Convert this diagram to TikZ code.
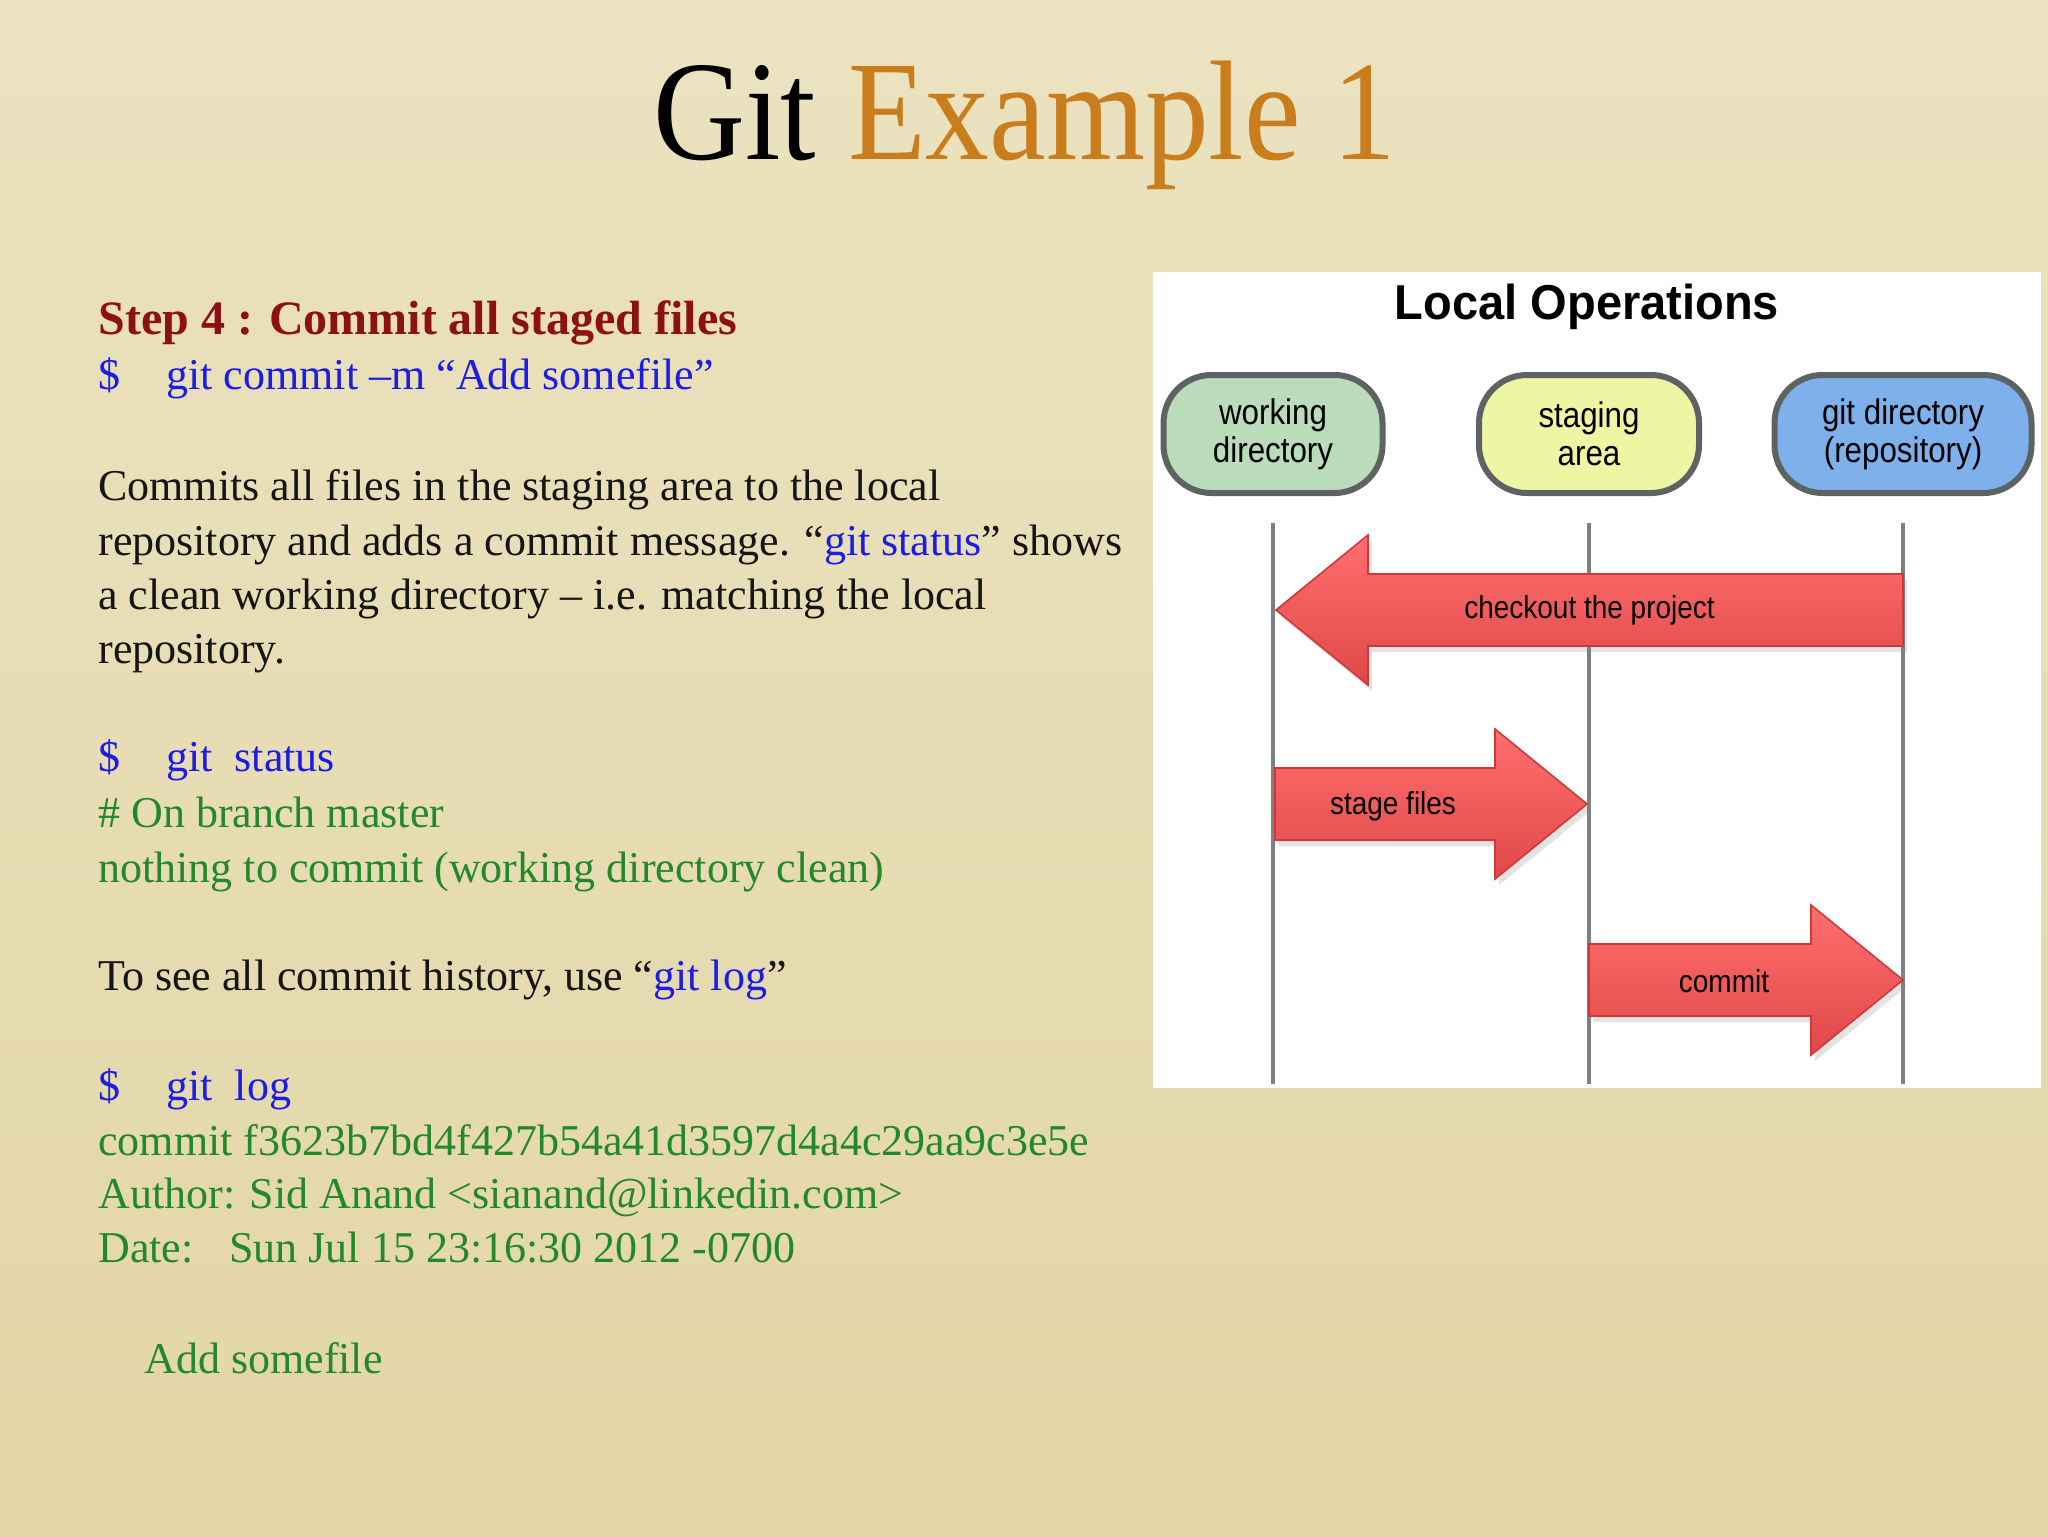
\documentclass[tikz,border=0pt]{standalone}
\usepackage{fontspec}
\usepackage{graphicx}
\setmainfont{Liberation Serif}
\newfontfamily\helv{Liberation Sans}
\usetikzlibrary{shadows,calc}
\definecolor{bgtop}{HTML}{EBE3C0}
\definecolor{bgmid}{HTML}{F2ECD0}
\definecolor{bgbot}{HTML}{E3D5A7}
\definecolor{titleorange}{HTML}{C97D1C}
\definecolor{headred}{HTML}{8E1111}
\definecolor{cmdblue}{HTML}{1C1CE8}
\definecolor{outgreen}{HTML}{22892A}
\definecolor{bodyblack}{HTML}{151515}
\definecolor{pillborder}{HTML}{5E6262}
\definecolor{pillgreen}{HTML}{BADCBA}
\definecolor{pillyellow}{HTML}{EEF6A4}
\definecolor{pillblue}{HTML}{7EB0EC}
\definecolor{lifegray}{HTML}{7D8183}
\definecolor{arrtop}{HTML}{FF6F6F}
\definecolor{arrbot}{HTML}{E04848}
\definecolor{arredge}{HTML}{D03838}
\newcommand\narrow[1]{\scalebox{0.88}[1]{#1}}
\tikzset{
  txt/.style={anchor=base west, inner sep=0pt, text=bodyblack, font=\fontsize{22pt}{26pt}\selectfont},
  pill/.style={draw=pillborder, line width=3pt, rounded corners=24pt, minimum height=59pt,
    align=center, inner sep=0pt, text=black, font=\helv\fontsize{17.8pt}{19pt}\selectfont},
  lifeline/.style={draw=lifegray, line width=2pt},
  fatarrow/.style={top color=arrtop, bottom color=arrbot, draw=arredge, line width=0.8pt,
    drop shadow={opacity=0.22, shadow xshift=2pt, shadow yshift=-3pt}},
  alabel/.style={inner sep=0pt, text=black, font=\helv\fontsize{15.9pt}{18pt}\selectfont}
}
\newcommand\redarrow[2]{%
  \coordinate (hb) at ($(#2)!46pt!(#1)$);
  \path[fatarrow] ($(#1)+(0,-36)$) -- ($(hb)+(0,-36)$) -- ($(hb)+(0,-75)$) -- (#2)
    -- ($(hb)+(0,75)$) -- ($(hb)+(0,36)$) -- ($(#1)+(0,36)$) -- cycle;}
\begin{document}
\begin{tikzpicture}[x=0.5pt,y=-0.5pt]
\useasboundingbox (0,0) rectangle (2048,1536);
\shade[top color=bgtop, middle color=bgmid, bottom color=bgbot] (0,0) rectangle (2048,1536);

% title
\node[anchor=base west, inner sep=0pt] (title) at (653,159)
  {\scalebox{0.897}[1]{\fontsize{71pt}{71pt}\selectfont Git \textcolor{titleorange}{Example 1}}};

% left text
\node[txt, text=headred, font=\fontsize{24pt}{28pt}\selectfont\bfseries] (step) at (98,334) {Step 4 : Commit all staged files};
\node[txt, text=cmdblue] (cmd1) at (98,389) {\makebox[34pt][l]{\$}git commit –m “Add somefile”};
\node[txt] (b1) at (98,500) {Commits all files in the staging area to the local};
\node[txt] (b2) at (98,555) {repository and adds a commit message. “\textcolor{cmdblue}{git status}” shows};
\node[txt] (b3) at (98,609) {a clean working directory – i.e. matching the local};
\node[txt] (b4) at (98,663) {repository.};
\node[txt, text=cmdblue] (cmd2) at (98,771) {\makebox[34pt][l]{\$}git\hspace{11pt}status};
\node[txt, text=outgreen] (o1) at (98,827) {\# On branch master};
\node[txt, text=outgreen] (o2) at (98,882) {nothing to commit (working directory clean)};
\node[txt] (b5) at (98,990) {To see all commit history, use “\textcolor{cmdblue}{git log}”};
\node[txt, text=cmdblue] (cmd3) at (98,1100) {\makebox[34pt][l]{\$}git\hspace{11pt}log};
\node[txt, text=outgreen] (o3) at (98,1155) {commit f3623b7bd4f427b54a41d3597d4a4c29aa9c3e5e};
\node[txt, text=outgreen] (o4) at (98,1208) {Author: Sid Anand <sianand@linkedin.com>};
\node[txt, text=outgreen] (o5) at (98,1262) {\makebox[65.5pt][l]{Date:}Sun Jul 15 23:16:30 2012 -0700};
\node[txt, text=outgreen] (o6) at (144,1373) {Add somefile};

% diagram panel
\node[fill=white, minimum width=444pt, minimum height=408pt, inner sep=0pt] (panel) at (1597,680) {};
\node[anchor=base, inner sep=0pt, text=black, font=\helv\bfseries\fontsize{24.5pt}{28pt}\selectfont] (lo) at (1587,319) {\scalebox{0.96}[1]{Local Operations}};

\node[pill, fill=pillgreen, minimum width=109.5pt] (wd) at (1273,434) {\narrow{working}\\\narrow{directory}};
\node[pill, fill=pillyellow, minimum width=110pt] (sa) at (1589,434) {\narrow{staging}\\\narrow{area}};
\node[pill, fill=pillblue, minimum width=128.5pt] (gd) at (1903,434) {\narrow{git directory}\\\narrow{(repository)}};

\draw[lifeline] ($(wd.south)+(0,27)$) -- ($(wd.south |- panel.south)+(0,-4)$);
\draw[lifeline] ($(sa.south)+(0,27)$) -- ($(sa.south |- panel.south)+(0,-4)$);
\draw[lifeline] ($(gd.south)+(0,27)$) -- ($(gd.south |- panel.south)+(0,-4)$);

% arrows
\coordinate (ckFrom) at ($(gd.center)+(0,176)$);
\coordinate (ckTo) at ($(wd.center)+(3,176)$);
\coordinate (stFrom) at ($(wd.center)+(2,370)$);
\coordinate (stTo) at ($(sa.center)+(-2,370)$);
\coordinate (cmFrom) at ($(sa.center)+(0,546)$);
\coordinate (cmTo) at ($(gd.center)+(0,546)$);
\redarrow{ckFrom}{ckTo}
\redarrow{stFrom}{stTo}
\redarrow{cmFrom}{cmTo}
\node[alabel] (ckl) at ($(ckFrom)!0.5!(ckTo)$) {\narrow{checkout the project}};
\node[alabel] (stl) at ($(stFrom)+(118,2)$) {\narrow{stage files}};
\node[alabel] (cml) at ($(cmFrom)+(135,1)$) {\narrow{commit}};
\end{tikzpicture}
\end{document}
